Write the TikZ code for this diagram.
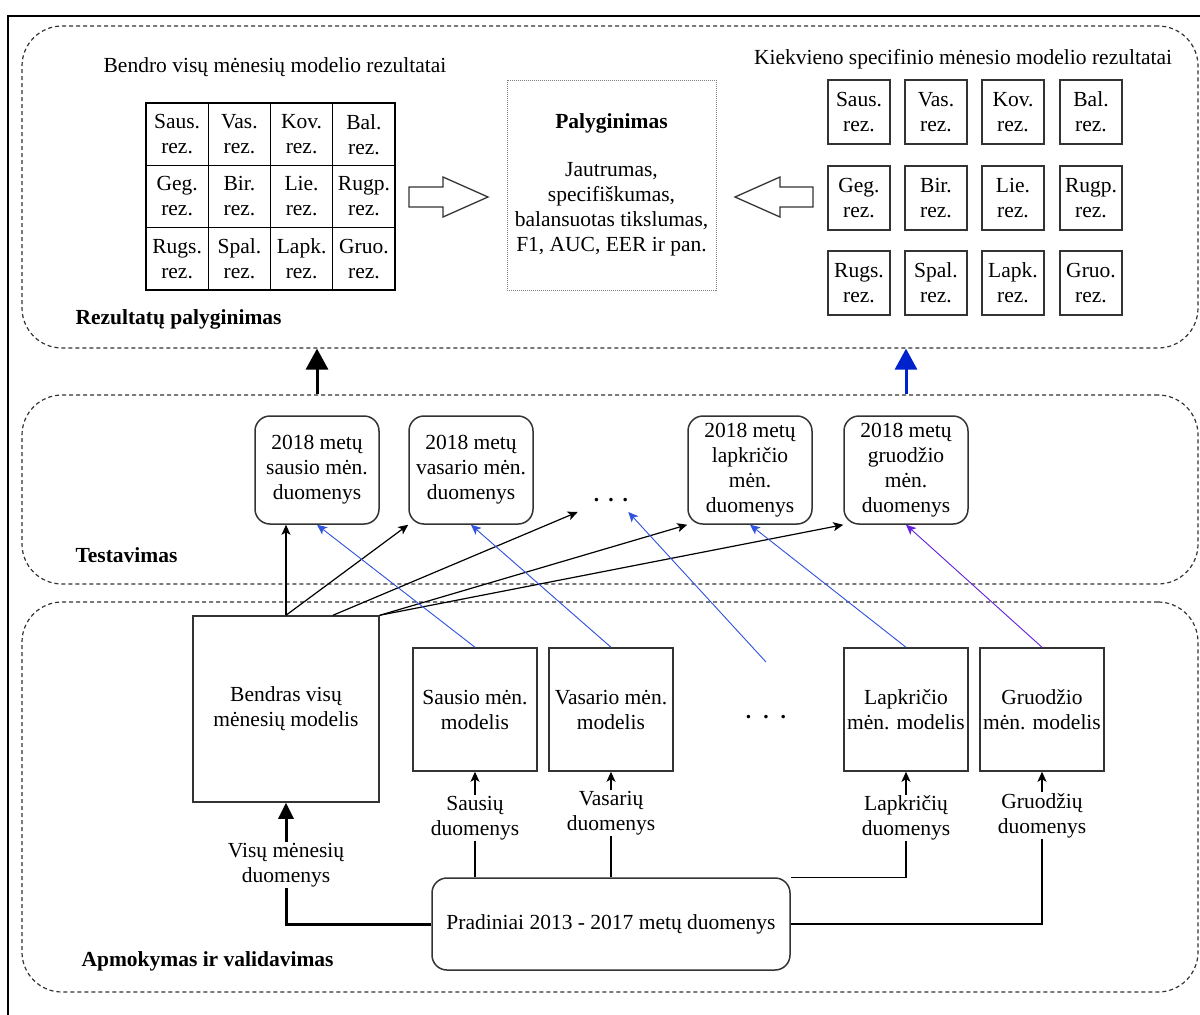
\documentclass[tikz,border=0pt]{standalone}
\usepackage{fontspec}
\setmainfont{Liberation Serif}
\usepackage{tikz}
\usetikzlibrary{arrows.meta}
\definecolor{boxgray}{RGB}{51,51,51}
\definecolor{lineblue}{RGB}{51,85,221}
\definecolor{darkblue}{RGB}{0,34,204}
\definecolor{lineviolet}{RGB}{102,34,221}
\tikzstyle{region}=[draw=boxgray,dash pattern=on 4pt off 3pt,rounded corners=40pt,line width=1.2pt,minimum width=1176pt]
\tikzstyle{cell}=[draw=black,minimum width=62.25pt,minimum height=62.33pt,inner sep=0pt,align=center,line width=1.3pt]
\tikzstyle{res}=[draw=boxgray,minimum width=62pt,minimum height=64pt,inner sep=0pt,align=center,line width=1.5pt]
\tikzstyle{testbox}=[draw=boxgray,rounded corners=15pt,minimum width=124pt,minimum height=108pt,inner sep=0pt,align=center,line width=1.5pt]
\tikzstyle{model}=[draw=boxgray,minimum width=124pt,minimum height=123pt,inner sep=0pt,align=center,line width=1.5pt]
\tikzstyle{edgelbl}=[fill=white,align=center,inner sep=1pt]
\tikzstyle{hollow}=[draw=boxgray,line width=1.3pt,fill=white]
\tikzstyle{to}=[-{Stealth[length=10pt,width=9pt,inset=2.5pt]},line width=1.2pt]
\tikzstyle{tothick}=[-{Triangle[length=21pt,width=22pt]},line width=3pt]

\begin{document}
\begin{tikzpicture}[x=1pt,y=-1pt,font=\fontsize{21.5}{25}\selectfont]
\useasboundingbox (0,0) rectangle (1200,1015);
\draw[line width=2pt] (8,1015) -- (8,16) -- (1200,16);

% regions
\node[region,minimum height=322pt] (rTop) at (610,187) {};
\node[region,minimum height=189pt] (rMid) at (610,489.5) {};
\node[region,minimum height=390pt] (rBot) at (610,797) {};
\node[anchor=west] (lTop) at (72,319) {\textbf{Rezultatų palyginimas}};
\node[anchor=west] (lMid) at (72,555) {\textbf{Testavimas}};
\node[anchor=west] (lBot) at (78,961) {\textbf{Apmokymas ir validavimas}};

% rezultatai
\node (hdL) at (275,67) {Bendro visų mėnesių modelio rezultatai};
\node (hdR) at (963,59) {Kiekvieno specifinio mėnesio modelio rezultatai};
\node[cell] (g1) at (177.1,134.2) {Saus.\\rez.};
\node[cell] (g2) at (239.4,134.2) {Vas.\\rez.};
\node[cell] (g3) at (301.6,134.2) {Kov.\\rez.};
\node[cell] (g4) at (363.9,134.2) {Bal.\\rez.};
\node[cell] (g5) at (177.1,196.5) {Geg.\\rez.};
\node[cell] (g6) at (239.4,196.5) {Bir.\\rez.};
\node[cell] (g7) at (301.6,196.5) {Lie.\\rez.};
\node[cell] (g8) at (363.9,196.5) {Rugp.\\rez.};
\node[cell] (g9) at (177.1,258.8) {Rugs.\\rez.};
\node[cell] (g10) at (239.4,258.8) {Spal.\\rez.};
\node[cell] (g11) at (301.6,258.8) {Lapk.\\rez.};
\node[cell] (g12) at (363.9,258.8) {Gruo.\\rez.};
\node[res] (k1) at (859,112) {Saus.\\rez.};
\node[res] (k2) at (936,112) {Vas.\\rez.};
\node[res] (k3) at (1013,112) {Kov.\\rez.};
\node[res] (k4) at (1091,112) {Bal.\\rez.};
\node[res] (k5) at (859,198) {Geg.\\rez.};
\node[res] (k6) at (936,198) {Bir.\\rez.};
\node[res] (k7) at (1013,198) {Lie.\\rez.};
\node[res] (k8) at (1091,198) {Rugp.\\rez.};
\node[res] (k9) at (859,283) {Rugs.\\rez.};
\node[res] (k10) at (936,283) {Spal.\\rez.};
\node[res] (k11) at (1013,283) {Lapk.\\rez.};
\node[res] (k12) at (1091,283) {Gruo.\\rez.};
\node[draw=gray,dash pattern=on 1pt off 1pt,minimum width=209pt,minimum height=210pt,align=center] (cmp) at (611.5,185)
  {\textbf{Palyginimas}\\[23pt]Jautrumas,\\specifiškumas,\\balansuotas tikslumas,\\F1, AUC, EER ir pan.};
\draw[hollow] (409,187) -- (443,187) -- (443,177) -- (488,197) -- (443,217) -- (443,207) -- (409,207) -- cycle;
\draw[hollow] (813,187) -- (780,187) -- (780,177) -- (735,197) -- (780,217) -- (780,207) -- (813,207) -- cycle;

% testavimas
\node[testbox] (t1) at (317,470) {2018 metų\\sausio mėn.\\duomenys};
\node[testbox] (t2) at (471,470) {2018 metų\\vasario mėn.\\duomenys};
\node[inner xsep=0pt,inner ysep=10pt] (dotsT) at (611,500) {\textbf{.\hspace{9pt}.\hspace{9pt}.}};
\node[testbox] (t3) at (750,470) {2018 metų\\lapkričio\\mėn.\\duomenys};
\node[testbox] (t4) at (906,470) {2018 metų\\gruodžio\\mėn.\\duomenys};
\draw[tothick] (t1 |- rMid.north) -- (t1 |- rTop.south);
\draw[tothick,draw=darkblue,fill=darkblue] (t4 |- rMid.north) -- (t4 |- rTop.south);

% apmokymas
\node[model,minimum width=186pt,minimum height=186pt] (bendras) at (286,709) {Bendras visų\\mėnesių modelis};
\node[model] (sausio) at (475,709.5) {Sausio mėn.\\modelis};
\node[model] (vasario) at (611,709.5) {Vasario mėn.\\modelis};
\node (dotsB) at (766,717) {\textbf{.\hspace{12pt}.\hspace{12pt}.}};
\node[model] (lapk) at (906,709.5) {Lapkričio\\mėn. modelis};
\node[model] (gruod) at (1042,709.5) {Gruodžio\\mėn. modelis};
\node[draw=boxgray,rounded corners=15pt,minimum width=358pt,minimum height=92pt,line width=1.5pt] (prad) at (611,924)
  {Pradiniai 2013 - 2017 metų duomenys};
\coordinate (dotsFree) at (766,662);

\draw[to] (prad.north -| sausio.south) -- (sausio.south) node[edgelbl,pos=0.56] {Sausių\\duomenys};
\draw[to] (prad.north -| vasario.south) -- (vasario.south) node[edgelbl,pos=0.61] {Vasarių\\duomenys};
\draw[to] (prad.north east) -| (lapk.south) node[edgelbl,pos=0.78] {Lapkričių\\duomenys};
\draw[to] (prad.east) -| (gruod.south) node[edgelbl,pos=0.856] {Gruodžių\\duomenys};
\draw[-{Triangle[length=16pt,width=15pt]},line width=3pt] (prad.west) -| (bendras.south) node[edgelbl,pos=0.742] {Visų mėnesių\\duomenys};

% bendras -> testavimas
\draw[to] (bendras.north) -- (bendras.north |- t1.south);
\draw[to] (bendras.north) -- (t2.south west);
\draw[to] ([xshift=47pt]bendras.north) -- ([xshift=-16pt]dotsT.south west);
\draw[to] (bendras.north east) -- (t3.south west);
\draw[to] (bendras.north east) -- (t4.south west);

% men. modeliai -> testavimas
\draw[to,draw=lineblue,fill=lineblue,line width=0.9pt] (sausio.north) -- (t1.south);
\draw[to,draw=lineblue,fill=lineblue,line width=0.9pt] (vasario.north) -- (t2.south);
\draw[to,draw=lineblue,fill=lineblue,line width=0.9pt] (dotsFree) -- (dotsT.south east);
\draw[to,draw=lineblue,fill=lineblue,line width=0.9pt] (lapk.north) -- (t3.south);
\draw[to,draw=lineviolet,fill=lineviolet,line width=0.9pt] (gruod.north) -- (t4.south);
\end{tikzpicture}
\end{document}
